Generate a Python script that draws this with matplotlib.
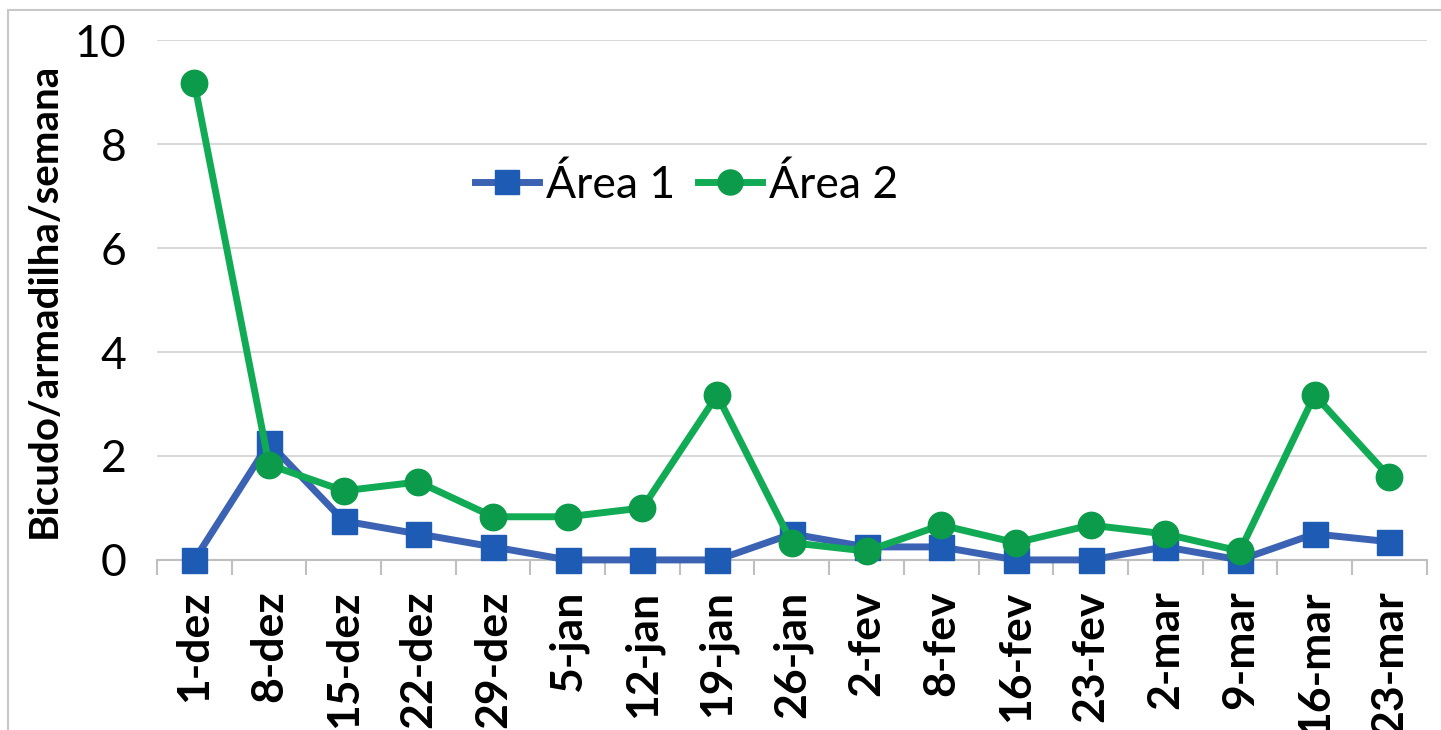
import matplotlib.pyplot as plt
from matplotlib.patches import Rectangle

plt.rcParams['font.family'] = ['Lato', 'DejaVu Sans']

# Weekly captures per trap
semanas = ['1-dez', '8-dez', '15-dez', '22-dez', '29-dez', '5-jan', '12-jan',
           '19-jan', '26-jan', '2-fev', '8-fev', '16-fev', '23-fev', '2-mar',
           '9-mar', '16-mar', '23-mar']
area1 = [0, 2.25, 0.75, 0.5, 0.25, 0, 0, 0, 0.5, 0.25, 0.25, 0, 0, 0.25, 0, 0.5, 0.35]
area2 = [9.17, 1.83, 1.33, 1.5, 0.83, 0.83, 1.0, 3.17, 0.33, 0.17, 0.67, 0.33, 0.67,
         0.5, 0.17, 3.17, 1.6]

fig = plt.figure(figsize=(14.41, 7.30), dpi=100)
ax = fig.add_axes([0.109, 0.233, 0.881, 0.712])

# light frame around the chart area
fig.patches.append(Rectangle((8 / 1441, -0.1), 1.2, 1 - 10 / 730 + 0.1,
                             transform=fig.transFigure, fill=False,
                             edgecolor='#c8c8c8', linewidth=1.5))

x = list(range(len(semanas)))
ax.plot(x, area1, color='#3B62B3', linewidth=5, marker='s', markersize=18,
        markerfacecolor='#1E5BB5', markeredgecolor='#1E5BB5', label='Área 1',
        zorder=3, clip_on=False)
ax.plot(x, area2, color='#12AB55', linewidth=5, marker='o', markersize=19,
        markerfacecolor='#0B9B4B', markeredgecolor='#0B9B4B', label='Área 2',
        zorder=4, clip_on=False)

ax.set_xlim(-0.5, len(semanas) - 0.5)
ax.set_ylim(0, 10)
ax.set_yticks([0, 2, 4, 6, 8, 10])
ax.set_xticks(x)
ax.set_xticklabels(semanas, rotation=90, fontsize=32, fontweight='bold', va='top')
ax.set_xticks([i + 0.5 for i in range(-1, len(semanas))], minor=True)

ax.tick_params(axis='x', which='major', length=0, pad=22)
ax.tick_params(axis='x', which='minor', length=11, width=1.5, color='#bfbfbf')
ax.tick_params(axis='y', length=0, labelsize=32, pad=22)

ax.grid(axis='y', color='#d9d9d9', linewidth=1.5)
ax.set_axisbelow(True)
for s in ['top', 'right', 'left']:
    ax.spines[s].set_visible(False)
ax.spines['bottom'].set_color('#bfbfbf')
ax.spines['bottom'].set_linewidth(1.5)

ax.set_ylabel('Bicudo/armadilha/semana', fontsize=29, fontweight='bold')
ax.yaxis.set_label_coords(-0.074, 0.5)

ax.legend(loc='center', bbox_to_anchor=(0.417, 0.721), ncol=2, frameon=False,
          fontsize=32, handlelength=1.45, handletextpad=0.15, columnspacing=0.5,
          markerscale=0.95)

plt.savefig('out.png', dpi=100)
